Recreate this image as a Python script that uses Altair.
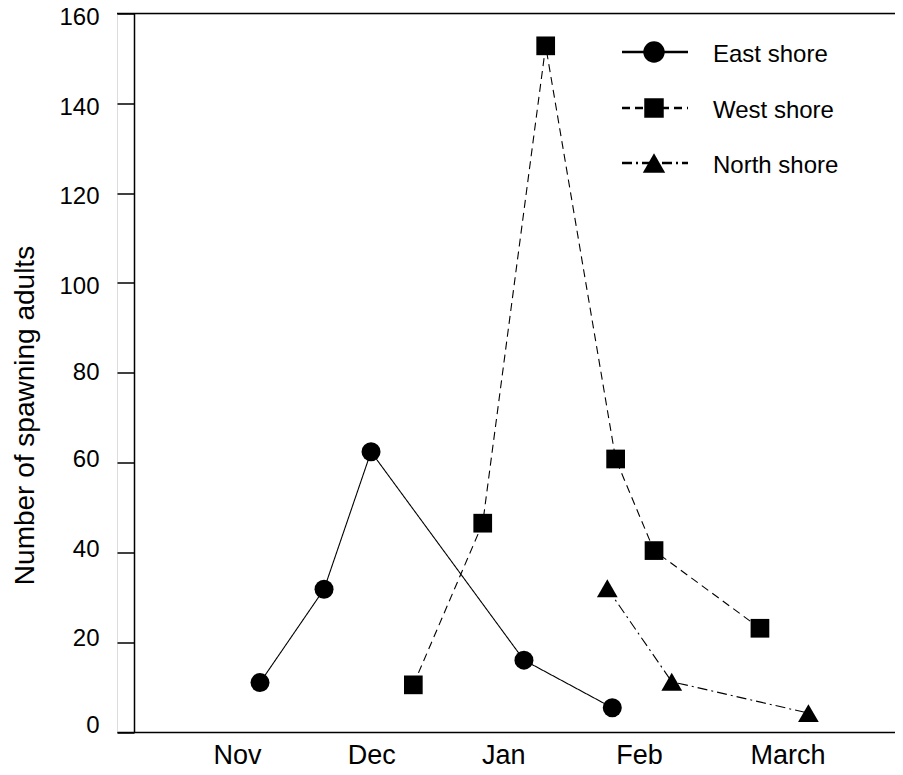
import altair as alt
import pandas as pd

# ---- data (x in months: Nov=0, Dec=1, Jan=2, Feb=3, March=4) ----
month_labels = ["Nov", "Dec", "Jan", "Feb", "March"]

east_x = [0.164, 0.641, 0.991, 2.130, 2.788]
east_y = [11.0, 31.8, 62.4, 16.0, 5.4]

west_x = [1.306, 1.823, 2.292, 2.813, 3.099, 3.888]
west_y = [10.5, 46.5, 152.8, 60.8, 40.4, 23.1]

north_x = [2.751, 3.231, 4.249]
north_y = [32.0, 11.2, 4.2]

series_names = ["East shore", "West shore", "North shore"]

FONT = "Liberation Sans"
W, H = 778, 718.5

rows = []
for name, xs, ys in zip(series_names, [east_x, west_x, north_x], [east_y, west_y, north_y]):
    for xv, yv in zip(xs, ys):
        rows.append({"series": name, "month": xv, "count": yv})
df = pd.DataFrame(rows)

styles = {
    "East shore": {"dash": [1, 0], "shape": "circle", "size": 361, "lsize": 460},
    "West shore": {"dash": [8, 5], "shape": "square", "size": 350, "lsize": 380},
    "North shore": {"dash": [10, 4, 2, 4], "shape": "triangle-up", "size": 430, "lsize": 500},
}

x_scale = alt.Scale(domain=[-0.9013, 4.894], nice=False, zero=False)
y_scale = alt.Scale(domain=[0, 160], nice=False, zero=True)

label_expr = "[" + ",".join("'%s'" % m for m in month_labels) + "][datum.value]"

x_axis = alt.Axis(
    values=[0, 1, 2, 3, 4],
    labelExpr=label_expr,
    ticks=False, tickSize=0, grid=False, title=None,
    labelAlign="left", labelOffset=-25, labelPadding=10,
    labelFontSize=27, labelFont=FONT, labelColor="black",
    domainColor="black", domainWidth=1.5,
)
y_axis = alt.Axis(
    values=list(range(0, 161, 20)), offset=-17, tickSize=17, tickWidth=1.5,
    tickColor="black", domainColor="black", domainWidth=1.5, grid=False,
    labelFontSize=24, labelFont=FONT, labelColor="black", labelPadding=18,
    labelOffset={"condition": [
        {"test": "datum.value >= 100", "value": 3.7},
        {"test": "datum.value == 80", "value": 0},
        {"test": "datum.value == 0", "value": -6.5},
    ], "value": -3.3},
    title="Number of spawning adults", titleFontSize=28, titleFont=FONT,
    titleFontWeight="normal", titleColor="black",
    titleX=-101, titleY=401.5, titleBaseline="alphabetic", titleAngle=270,
)

X = alt.X("month:Q", scale=x_scale, axis=x_axis)
Y = alt.Y("count:Q", scale=y_scale, axis=y_axis)

layers = []
for name in series_names:
    st = styles[name]
    sub = df[df["series"] == name]
    line = alt.Chart(sub).mark_line(color="black", strokeWidth=1.1, strokeDash=st["dash"]).encode(
        x=X, y=Y, order="month:Q")
    layers.append(line)
for name in series_names:
    st = styles[name]
    sub = df[df["series"] == name]
    pts = alt.Chart(sub).mark_point(shape=st["shape"], size=st["size"], filled=True,
                                    color="black", opacity=1, strokeWidth=0).encode(x=X, y=Y)
    layers.append(pts)

# top frame line
frame = alt.Chart(pd.DataFrame({"a": [0]})).mark_rule(color="black", strokeWidth=1.5).encode(
    x=alt.value(0), x2=alt.value(W), y=alt.value(0))
layers.append(frame)

# manual legend
leg_y = [38.5, 94.5, 149.5]
for name, ly in zip(series_names, leg_y):
    st = styles[name]
    ldf = pd.DataFrame({"series": [name]})
    base = alt.Chart(ldf)
    layers.append(base.mark_rule(color="black", strokeWidth=2.4, strokeDash=st["dash"]).encode(
        x=alt.value(505), x2=alt.value(571), y=alt.value(ly)))
    layers.append(base.mark_point(shape=st["shape"], size=st["lsize"], filled=True,
                                  color="black", opacity=1, strokeWidth=0).encode(
        x=alt.value(537), y=alt.value(ly)))
    layers.append(base.mark_text(align="left", baseline="middle", fontSize=24, font=FONT,
                                 color="black").encode(
        x=alt.value(596), y=alt.value(ly + 3), text="series:N"))

chart = alt.layer(*layers).properties(
    width=W, height=H,
    autosize=alt.AutoSizeParams(type="none"),
    padding={"left": 109, "top": 5.5, "right": 0, "bottom": 35},
).configure_view(strokeWidth=0).configure(font=FONT)

chart.save("out.html", embed_options={"renderer": "svg", "actions": False})
